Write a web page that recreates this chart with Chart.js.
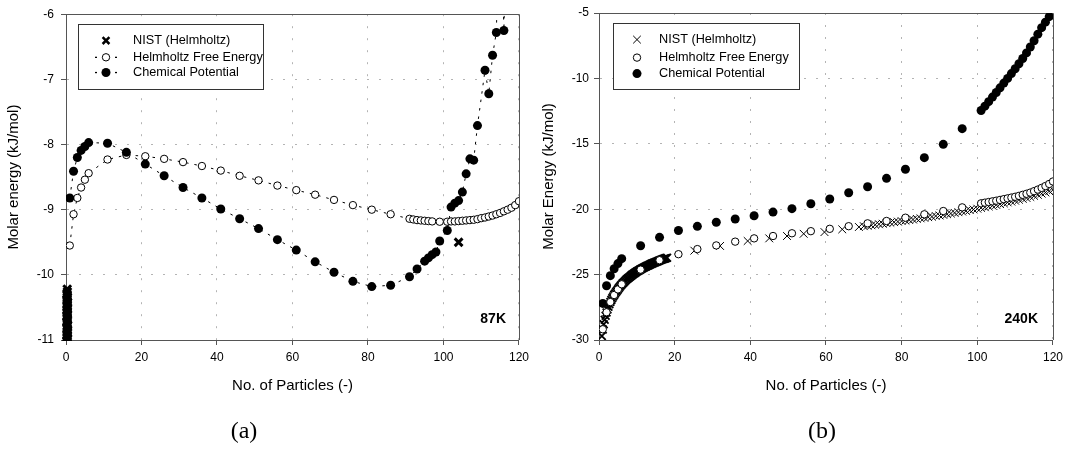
<!DOCTYPE html>
<html><head><meta charset="utf-8">
<script src="https://cdn.jsdelivr.net/npm/chart.js@4.4.1/dist/chart.umd.min.js"></script>
<style>
html,body{margin:0;padding:0;background:#fff;width:1068px;height:450px;overflow:hidden;}
#wa{position:absolute;left:0;top:0;width:534px;height:450px;}
#wb{position:absolute;left:534px;top:0;width:534px;height:450px;}
.cap{position:absolute;top:418px;width:60px;text-align:center;line-height:24px;font-family:"Liberation Serif","Times New Roman",serif;font-size:24px;color:#000;}
</style></head><body>
<div id="wa"><canvas id="ca" width="534" height="450"></canvas></div>
<div id="wb"><canvas id="cb" width="534" height="450"></canvas></div>
<div class="cap" style="left:214px">(a)</div>
<div class="cap" style="left:792px">(b)</div>
<script>
// ---------- Panel (a) 87K ----------
const xTicksA = [0, 20, 40, 60, 80, 100, 120];
const yTicksA = [-11, -10, -9, -8, -7, -6];
const nistA_N = [0.3,0.22,0.4,0.28,0.36,0.24,0.42,0.3,0.38,0.26,0.34,0.44,0.3,0.22,0.4,0.32,0.26,0.38,0.3,0.34,0.24,0.4,0.28,0.36,0.3,0.42,0.26,0.34,0.38,0.3,0.24,0.36,0.32,104];
const nistA_E = [-11.05,-11.02,-10.99,-10.97,-10.94,-10.92,-10.89,-10.87,-10.84,-10.82,-10.79,-10.77,-10.74,-10.72,-10.69,-10.67,-10.64,-10.62,-10.59,-10.57,-10.54,-10.52,-10.49,-10.47,-10.44,-10.42,-10.39,-10.37,-10.34,-10.32,-10.29,-10.26,-10.22,-9.5];
const helmA_N = [1,2,3,4,5,6,11,16,21,26,31,36,41,46,51,56,61,66,71,76,81,86,91,92,93,94,95,96,97,99,101,102,103,104,105,106,107,108,109,110,111,112,113,114,115,116,117,118,119,120];
const helmA_E = [-9.55,-9.07,-8.82,-8.66,-8.54,-8.44,-8.23,-8.16,-8.18,-8.22,-8.27,-8.33,-8.40,-8.48,-8.55,-8.63,-8.70,-8.77,-8.85,-8.93,-9.00,-9.07,-9.14,-9.15,-9.16,-9.165,-9.17,-9.175,-9.18,-9.185,-9.185,-9.18,-9.18,-9.175,-9.17,-9.165,-9.16,-9.155,-9.145,-9.13,-9.12,-9.105,-9.09,-9.07,-9.05,-9.025,-9.0,-8.97,-8.93,-8.87];
const chemA_N = [1,2,3,4,5,6,11,16,21,26,31,36,41,46,51,56,61,66,71,76,81,86,91,93,95,96,97,98,99,101,102,103,104,105,106,107,108,109,111,112,113,114,115,116,117];
const chemA_E = [-8.82,-8.41,-8.20,-8.09,-8.03,-7.97,-7.98,-8.12,-8.30,-8.48,-8.66,-8.82,-8.99,-9.14,-9.29,-9.46,-9.62,-9.80,-9.96,-10.10,-10.18,-10.16,-10.03,-9.91,-9.79,-9.74,-9.69,-9.65,-9.48,-9.32,-8.96,-8.90,-8.86,-8.73,-8.45,-8.22,-8.24,-7.71,-6.86,-7.22,-6.63,-6.28,-4.0,-6.25,-3.5];

// ---------- Panel (b) 240K ----------
const xTicksB = [0, 20, 40, 60, 80, 100, 120];
const yTicksB = [-30, -25, -20, -15, -10, -5];
const nistB_N = [0.5,0.75,1,1.25,1.5,1.75,2,2.25,2.5,2.75,3,3.25,3.5,3.75,4,4.25,4.5,4.75,5,5.25,5.5,5.75,6,6.25,6.5,6.75,7,7.25,7.5,7.75,8,8.25,8.5,8.75,9,9.25,9.5,9.75,10,10.25,10.5,10.75,11,11.25,11.5,11.75,12,12.25,12.5,12.75,13,13.25,13.5,13.75,14,14.25,14.5,14.75,15,15.25,15.5,15.75,16,16.25,16.5,16.75,17,17.25,17.5,17.75,18,
  25.2,32,39.3,45,49.7,54.1,59.6,64.3,68.7,
  70,71,72,73,74,75,76,77,78,79,80,81,82,83,84,85,86,87,88,89,90,91,92,93,94,95,96,97,98,99,100,101,102,103,104,105,106,107,108,109,110,111,112,113,114,115,116,117,118,119,120];
const nistB_E = [-30.4,-29.7,-29.2,-28.8,-28.45,-28.15,-27.9,-27.67,-27.45,-27.27,-27.1,-26.95,-26.8,-26.67,-26.55,-26.44,-26.33,-26.23,-26.13,-26.03,-25.93,-25.84,-25.75,-25.67,-25.6,-25.52,-25.45,-25.38,-25.32,-25.26,-25.2,-25.14,-25.08,-25.02,-24.97,-24.92,-24.87,-24.82,-24.77,-24.72,-24.68,-24.64,-24.6,-24.56,-24.52,-24.48,-24.44,-24.4,-24.37,-24.33,-24.3,-24.26,-24.23,-24.19,-24.16,-24.13,-24.1,-24.07,-24.04,-24.01,-23.98,-23.95,-23.92,-23.89,-23.86,-23.83,-23.81,-23.78,-23.76,-23.73,-23.71,
  -23.17,-22.81,-22.43,-22.23,-22.05,-21.88,-21.75,-21.54,-21.36,
  -21.3,-21.27,-21.23,-21.19,-21.15,-21.11,-21.07,-21.03,-20.99,-20.95,-20.91,-20.87,-20.83,-20.79,-20.74,-20.7,-20.66,-20.61,-20.57,-20.52,-20.48,-20.43,-20.38,-20.33,-20.28,-20.23,-20.18,-20.13,-20.07,-20.02,-19.96,-19.9,-19.85,-19.79,-19.73,-19.67,-19.61,-19.55,-19.48,-19.42,-19.35,-19.28,-19.21,-19.14,-19.06,-18.98,-18.9,-18.81,-18.72,-18.62,-18.52];
const helmB_N = [1,2,3,4,5,6,11,16,21,26,31,36,41,46,51,56,61,66,71,76,81,86,91,96,101,102,103,104,105,106,107,108,109,110,111,112,113,114,115,116,117,118,119,120];
const helmB_E = [-29.18,-27.88,-27.1,-26.56,-26.13,-25.74,-24.62,-23.9,-23.44,-23.05,-22.77,-22.48,-22.23,-22.05,-21.84,-21.68,-21.5,-21.3,-21.08,-20.9,-20.65,-20.39,-20.14,-19.86,-19.55,-19.5,-19.45,-19.4,-19.35,-19.29,-19.23,-19.17,-19.11,-19.05,-18.98,-18.9,-18.82,-18.73,-18.62,-18.5,-18.37,-18.23,-18.07,-17.88];
const chemB_N = [1,2,3,4,5,6,11,16,21,26,31,36,41,46,51,56,61,66,71,76,81,86,91,96,101,102,103,104,105,106,107,108,109,110,111,112,113,114,115,116,117,118,119];
const chemB_E = [-27.2,-25.85,-25.08,-24.55,-24.16,-23.78,-22.79,-22.15,-21.63,-21.31,-21.0,-20.75,-20.5,-20.22,-19.96,-19.58,-19.22,-18.74,-18.28,-17.64,-16.95,-16.06,-15.04,-13.84,-12.45,-12.12,-11.78,-11.43,-11.08,-10.72,-10.36,-10.0,-9.63,-9.26,-8.88,-8.48,-8.05,-7.6,-7.12,-6.62,-6.12,-5.7,-5.28];

const seriesLabels = ['NIST (Helmholtz)', 'Helmholtz Free Energy', 'Chemical Potential'];
const FONT = '"Liberation Sans", Arial, Helvetica, sans-serif';

function pts(xs, ys) { return xs.map((x, i) => ({x: x, y: ys[i]})); }

function drawSym(ctx, sym, x, y) {
  ctx.save();
  if (sym === 'xb' || sym === 'x') {
    const r = sym === 'xb' ? 3.4 : 3.8;
    ctx.lineWidth = sym === 'xb' ? 2.5 : 1;
    ctx.strokeStyle = '#000';
    ctx.beginPath();
    ctx.moveTo(x - r, y - r); ctx.lineTo(x + r, y + r);
    ctx.moveTo(x - r, y + r); ctx.lineTo(x + r, y - r);
    ctx.stroke();
  } else if (sym === 'open') {
    ctx.beginPath(); ctx.arc(x, y, 3.7, 0, Math.PI * 2);
    ctx.fillStyle = '#fff'; ctx.fill();
    ctx.lineWidth = 1; ctx.strokeStyle = '#000'; ctx.stroke();
  } else {
    ctx.beginPath(); ctx.arc(x, y, 4.5, 0, Math.PI * 2);
    ctx.fillStyle = '#000'; ctx.fill();
  }
  ctx.restore();
}

function makeDecor(cfg) {
  return {
    id: 'decor',
    beforeDatasetsDraw(chart) {
      const {ctx, chartArea: a} = chart;
      ctx.save();
      ctx.strokeStyle = '#555'; ctx.lineWidth = 1;
      ctx.beginPath();
      const t = Math.round(a.top) + 0.5, r = Math.round(a.right) + 0.5;
      ctx.moveTo(a.left, t); ctx.lineTo(r, t); ctx.lineTo(r, a.bottom);
      ctx.stroke();
      ctx.restore();
    },
    afterDraw(chart) {
      const {ctx, chartArea: a} = chart;
      ctx.save();
      const L = cfg.legend;
      const bx = Math.round(a.left + L.x), by = Math.round(a.top + L.y);
      ctx.fillStyle = '#fff'; ctx.fillRect(bx, by, L.w, L.h);
      ctx.strokeStyle = '#333'; ctx.lineWidth = 1;
      ctx.strokeRect(bx + 0.5, by + 0.5, L.w, L.h);
      ctx.font = '12.7px ' + FONT; ctx.fillStyle = '#000';
      ctx.textBaseline = 'middle'; ctx.textAlign = 'left';
      L.items.forEach((it) => {
        const sy = by + it.dy, sx = bx + L.sx;
        ctx.fillStyle = '#000';
        ctx.fillText(chart.data.datasets[it.ds].label, bx + L.tx, sy);
        if (it.dashes) {
          ctx.fillRect(sx - 11, sy - 0.6, 2, 1.3);
          ctx.fillRect(sx + 9, sy - 0.6, 2, 1.3);
        }
        drawSym(ctx, it.sym, sx, sy);
      });
      ctx.font = 'bold 14px ' + FONT; ctx.fillStyle = '#000';
      ctx.textAlign = 'right'; ctx.textBaseline = 'middle';
      ctx.fillText(cfg.tag, a.right - cfg.tagDx, a.bottom - 21);
      ctx.restore();
    }
  };
}

function makeScales(c) {
  const tickFont = {family: FONT, size: 12};
  return {
    x: {
      type: 'linear', min: c.xTicks[0], max: c.xTicks[c.xTicks.length - 1],
      afterBuildTicks(s) { s.ticks = c.xTicks.map(v => ({value: v})); },
      ticks: {color: '#000', font: tickFont, padding: 5, maxRotation: 0, autoSkip: false},
      grid: {color: '#b4b4b4', lineWidth: 1, tickLength: 5, tickColor: '#555', tickWidth: 1, tickBorderDash: []},
      border: {color: '#555', width: 1, dash: [2, 10]},
      title: {display: true, text: 'No. of Particles (-)', color: '#000', font: {family: FONT, size: 15}, padding: {top: 0, bottom: 55}},
      afterFit(s) { s.height = 110; }
    },
    y: {
      type: 'linear', min: c.yTicks[0], max: c.yTicks[c.yTicks.length - 1],
      afterBuildTicks(s) { s.ticks = c.yTicks.map(v => ({value: v})); },
      ticks: {color: '#000', font: tickFont, padding: c.yPad, autoSkip: false},
      grid: {color: '#b4b4b4', lineWidth: 1, tickLength: 5, tickColor: '#555', tickWidth: 1, tickBorderDash: []},
      border: {color: '#555', width: 1, dash: [2, 10]},
      title: {display: true, text: c.yTitle, color: '#000', font: {family: FONT, size: 15}, padding: {top: c.yTitlePad, bottom: 0}},
      afterFit(s) { s.width = c.yWidth; }
    }
  };
}

// Chart (a)
new Chart(document.getElementById('ca'), {
  type: 'scatter',
  data: {
    datasets: [
      {label: seriesLabels[0], data: pts(nistA_N, nistA_E), pointStyle: 'crossRot', pointRadius: 5.5, pointBorderWidth: 3,
       borderColor: '#000', backgroundColor: '#000', pointBorderColor: '#000', showLine: false, order: 1,
       clip: {left: 8, top: 0, right: 0, bottom: 1}},
      {label: seriesLabels[1], data: pts(helmA_N, helmA_E), pointStyle: 'circle', pointRadius: 3.7, pointBorderWidth: 1,
       pointBorderColor: '#000', pointBackgroundColor: '#fff', borderColor: '#000', borderWidth: 1, borderDash: [2.5, 6],
       showLine: true, order: 3},
      {label: seriesLabels[2], data: pts(chemA_N, chemA_E), pointStyle: 'circle', pointRadius: 4.5, pointBorderWidth: 0,
       pointBorderColor: '#000', pointBackgroundColor: '#000', borderColor: '#000', borderWidth: 1, borderDash: [2.5, 6],
       showLine: true, order: 2}
    ]
  },
  options: {
    responsive: false, animation: false, devicePixelRatio: 1,
    layout: {padding: {left: 0, top: 13, right: 13, bottom: 0}},
    plugins: {legend: {display: false}, tooltip: {enabled: false}},
    elements: {line: {tension: 0}},
    scales: makeScales({xTicks: xTicksA, yTicks: yTicksA, yPad: 7, yTitle: 'Molar energy (kJ/mol)', yTitlePad: 5, yWidth: 66})
  },
  plugins: [makeDecor({
    tag: '87K', tagDx: 13,
    legend: {x: 12, y: 10, w: 185, h: 65, sx: 28, tx: 55,
      items: [{ds: 0, sym: 'xb', dy: 16.6}, {ds: 1, sym: 'open', dy: 33.3, dashes: true}, {ds: 2, sym: 'filled', dy: 48.5, dashes: true}]}
  })]
});

// Chart (b)
new Chart(document.getElementById('cb'), {
  type: 'scatter',
  data: {
    datasets: [
      {label: seriesLabels[0], data: pts(nistB_N, nistB_E), pointStyle: 'crossRot', pointRadius: 5.5,
       pointBorderWidth: (c) => (c.raw && c.raw.x <= 18 ? 1.8 : 1),
       borderColor: '#000', backgroundColor: '#000', pointBorderColor: '#000', showLine: false, order: 3},
      {label: seriesLabels[1], data: pts(helmB_N, helmB_E), pointStyle: 'circle', pointRadius: 3.7, pointBorderWidth: 1,
       pointBorderColor: '#000', pointBackgroundColor: '#fff', showLine: false, order: 1},
      {label: seriesLabels[2], data: pts(chemB_N, chemB_E), pointStyle: 'circle', pointRadius: 4.5, pointBorderWidth: 0,
       pointBorderColor: '#000', pointBackgroundColor: '#000', showLine: false, order: 2}
    ]
  },
  options: {
    responsive: false, animation: false, devicePixelRatio: 1,
    layout: {padding: {left: 0, top: 13, right: 14, bottom: 0}},
    plugins: {legend: {display: false}, tooltip: {enabled: false}},
    scales: makeScales({xTicks: xTicksB, yTicks: yTicksB, yPad: 5, yTitle: 'Molar Energy (kJ/mol)', yTitlePad: 6, yWidth: 65})
  },
  plugins: [makeDecor({
    tag: '240K', tagDx: 15,
    legend: {x: 14, y: 10, w: 186, h: 66, sx: 24, tx: 46,
      items: [{ds: 0, sym: 'x', dy: 16.6}, {ds: 1, sym: 'open', dy: 34.6}, {ds: 2, sym: 'filled', dy: 50.6}]}
  })]
});
</script>
</body></html>
